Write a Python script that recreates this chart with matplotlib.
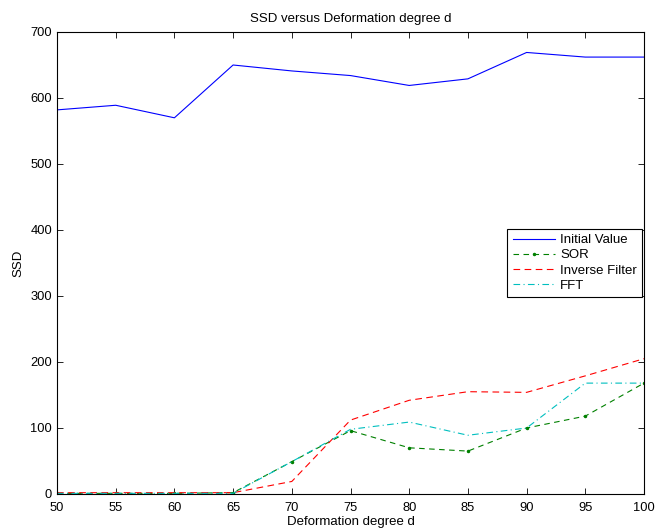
import matplotlib
matplotlib.use("Agg")
import matplotlib.pyplot as plt

plt.rcParams['font.family'] = ['Liberation Sans', 'DejaVu Sans']

d = [50, 55, 60, 65, 70, 75, 80, 85, 90, 95, 100]
initial_value = [582, 589, 570, 650, 641, 634, 619, 629, 669, 662, 662]
sor = [1, 1, 1, 2, 49, 96, 70, 65, 100, 118, 168]
inverse_filter = [2, 2, 2, 2, 19, 112, 142, 155, 154, 179, 205]
fft = [1, 1, 1, 1, 49, 98, 109, 89, 100, 168, 168]

fig = plt.figure(figsize=(6.56, 5.29), dpi=100)
ax = fig.add_axes([57/656, 35/529, 587/656, 462/529])

ax.plot(d, initial_value, color='#0000ff', lw=0.8, label='Initial Value')
ax.plot(d, sor, color='#008000', lw=0.8, ls=(0, (5, 4)), marker='.', ms=3, label='SOR')
ax.plot(d, inverse_filter, color='#ff0000', lw=0.8, ls=(0, (6, 4)), label='Inverse Filter')
ax.plot(d, fft, color='#00bfbf', lw=0.8, ls=(0, (6, 3, 1, 3)), label='FFT')

ax.set_xlim(50, 100)
ax.set_ylim(0, 700)
ax.set_xticks(d)
ax.set_yticks(range(0, 701, 100))
ax.tick_params(direction='in', top=True, right=True, labelsize=9.3, length=4, width=0.6)
ax.tick_params(axis='x', pad=6)
for s in ax.spines.values():
    s.set_linewidth(0.8)

ax.set_title('SSD versus Deformation degree d', fontsize=9.5, pad=7)
ax.set_xlabel('Deformation degree d', fontsize=9.5, labelpad=1)
ax.set_ylabel('SSD', fontsize=9.5, labelpad=4)

leg = ax.legend(loc='upper left', bbox_to_anchor=(0.767, 0.574), fontsize=9.5,
                frameon=True, fancybox=False, edgecolor='black', framealpha=1,
                borderpad=0.4, labelspacing=0.22, handlelength=3.2, handletextpad=0.4,
                borderaxespad=0, numpoints=1)
leg.get_frame().set_linewidth(0.8)

fig.savefig('out.png', dpi=100)
